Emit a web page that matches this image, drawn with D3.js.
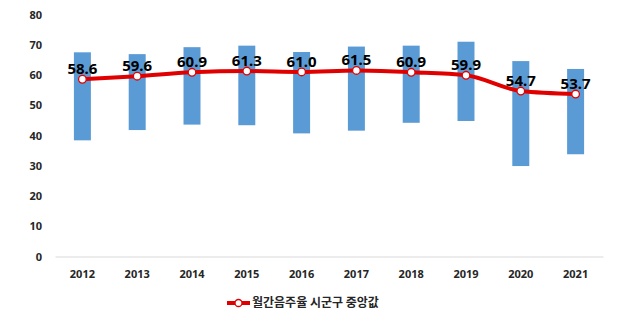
<!DOCTYPE html>
<html>
<head>
<meta charset="utf-8">
<script src="https://cdn.jsdelivr.net/npm/d3@7"></script>
<style>
  html, body { margin: 0; padding: 0; background: #fff; }
  svg { display: block; font-family: "Malgun Gothic", "Noto Sans CJK KR", "DejaVu Sans", sans-serif; }
</style>
</head>
<body>
<svg id="chart" width="621" height="324"></svg>
<script>
// 연도별 월간음주율: 시군구 중앙값과 최소~최대 범위
const years = ["2012", "2013", "2014", "2015", "2016", "2017", "2018", "2019", "2020", "2021"];
const medianRate = [58.6, 59.6, 60.9, 61.3, 61.0, 61.5, 60.9, 59.9, 54.7, 53.7];
const rangeMax = [67.5, 66.9, 69.2, 69.7, 67.6, 69.4, 69.7, 71.0, 64.6, 62.0];
const rangeMin = [38.4, 41.8, 43.6, 43.4, 40.7, 41.6, 44.2, 44.8, 29.9, 33.8];
const yTicks = [0, 10, 20, 30, 40, 50, 60, 70, 80];
const legendLabel = "월간음주율 시군구 중앙값";

const rows = years.map((y, i) => ({ year: y, median: medianRate[i], max: rangeMax[i], min: rangeMin[i] }));

const svg = d3.select("#chart");
const plotLeft = 55, plotRight = 603, plotTop = 14.5, plotBottom = 256.5;

const x = d3.scaleBand().domain(years).range([plotLeft, plotRight]).paddingInner(0.69).paddingOuter(0.345);
const y = d3.scaleLinear().domain([0, 80]).range([plotBottom, plotTop]);

// 범위 막대
svg.append("g").selectAll("rect").data(rows).join("rect")
  .attr("x", d => x(d.year))
  .attr("width", x.bandwidth())
  .attr("y", d => y(d.max))
  .attr("height", d => y(d.min) - y(d.max))
  .attr("fill", "#5b9bd5");

// 가로축
const xAxis = svg.append("g").attr("transform", `translate(0,${plotBottom})`)
  .call(d3.axisBottom(x).tickSize(0).tickPadding(14));
xAxis.select(".domain").attr("stroke", "#d9d9d9").attr("stroke-width", 1);
xAxis.selectAll("text").attr("font-size", 11).attr("font-weight", "bold").attr("fill", "#262626")
  .attr("font-family", "'Noto Sans', 'DejaVu Sans', sans-serif");

// 세로축
const yAxis = svg.append("g").attr("transform", `translate(${plotLeft},0)`)
  .call(d3.axisLeft(y).tickValues(yTicks).tickSize(0).tickPadding(13));
yAxis.select(".domain").remove();
yAxis.selectAll("text").attr("font-size", 11).attr("font-weight", "bold").attr("fill", "#262626")
  .attr("font-family", "'Noto Sans', 'DejaVu Sans', sans-serif");

// 중앙값 선
const cx = d => x(d.year) + x.bandwidth() / 2;
const line = d3.line().x(cx).y(d => y(d.median)).curve(d3.curveMonotoneX);
svg.append("path").datum(rows)
  .attr("d", line)
  .attr("fill", "none")
  .attr("stroke", "#e00000")
  .attr("stroke-width", 4)
  .attr("stroke-linejoin", "round");

svg.append("g").selectAll("circle").data(rows).join("circle")
  .attr("cx", cx)
  .attr("cy", d => y(d.median))
  .attr("r", 3.8)
  .attr("fill", "#fff")
  .attr("stroke", "#e00000")
  .attr("stroke-width", 1.3);

// 값 레이블
svg.append("g").selectAll("text").data(rows).join("text")
  .attr("x", cx)
  .attr("y", d => y(d.median) - 5)
  .attr("text-anchor", "middle")
  .attr("font-size", 15)
  .attr("font-weight", "bold")
  .attr("fill", "#000")
  .attr("font-family", "'Noto Sans', 'DejaVu Sans', sans-serif")
  .text(d => d.median.toFixed(1));

// 범례
const lg = svg.append("g").attr("transform", "translate(227,303)");
lg.append("line").attr("x1", 0).attr("x2", 23).attr("y1", 0).attr("y2", 0)
  .attr("stroke", "#e00000").attr("stroke-width", 4);
lg.append("circle").attr("cx", 11.5).attr("cy", 0).attr("r", 3.5)
  .attr("fill", "#fff").attr("stroke", "#e00000").attr("stroke-width", 1.3);
lg.append("text").attr("x", 25).attr("y", 0).attr("dy", "0.35em")
  .attr("font-size", 12).attr("font-weight", "bold").attr("fill", "#262626")
  .attr("font-family", "'Noto Sans CJK KR', sans-serif")
  .text(legendLabel);
</script>
</body>
</html>
